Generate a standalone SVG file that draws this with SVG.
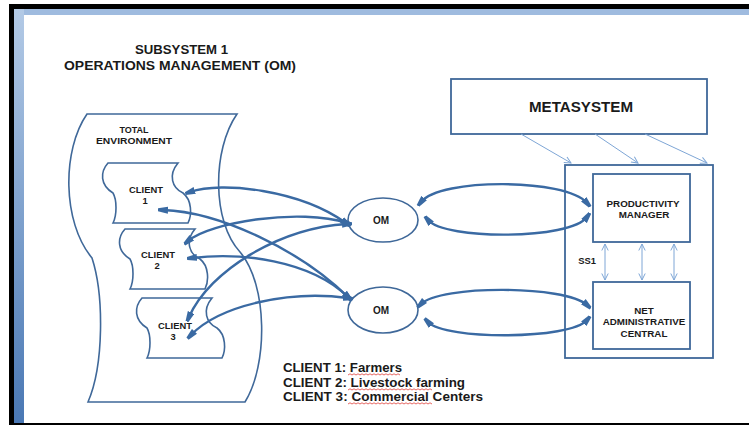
<svg xmlns="http://www.w3.org/2000/svg" width="749" height="425" viewBox="0 0 749 425">
<defs>
<linearGradient id="lstrip" x1="0" y1="0" x2="0" y2="1">
<stop offset="0" stop-color="#b3cae6"/>
<stop offset="1" stop-color="#4a78b4"/>
</linearGradient>
<path id="clientShape" d="M108,163 L178,163 C168,175 172,188 183,193 C192,200 192,215 188,223 L113,223 C117,215 117,200 113,193 C100,185 100,172 108,163 Z"/>
<marker id="wedge" viewBox="0 0 10 8" refX="5" refY="4" markerWidth="10" markerHeight="8" markerUnits="userSpaceOnUse" orient="auto-start-reverse">
<path d="M0,0.5 L10,2.5 L10,5.5 L0,7.5 Z" fill="#3a6aa3"/>
</marker>
<marker id="open" viewBox="0 0 8 8" refX="7" refY="4" markerWidth="8" markerHeight="8" markerUnits="userSpaceOnUse" orient="auto-start-reverse">
<path d="M0.5,0.8 L7,4 L0.5,7.2" fill="none" stroke="#7ea6d6" stroke-width="1"/>
</marker>
</defs>
<style>
.shape{fill:none;stroke:#3f6899;stroke-width:1.6}
.box{fill:#ffffff;stroke:#3f6899;stroke-width:1.8}
.thick{fill:none;stroke:#3a6aa3;stroke-width:2.4}
.thin{fill:none;stroke:#7ea6d6;stroke-width:1}
.lbl{font-family:"Liberation Sans",Arial,sans-serif;font-weight:bold;fill:#1a1a1a;text-anchor:middle}
.txt{font-family:"Liberation Sans",Arial,sans-serif;font-weight:bold;fill:#1a1a1a}
.wavy{fill:none;stroke:#e0403a;stroke-width:0.8}
</style>
<rect x="0" y="0" width="749" height="425" fill="#ffffff"/>
<g id="frame">
<rect x="9" y="4" width="740" height="5" fill="#000000"/>
<rect x="9" y="4" width="5" height="421" fill="#000000"/>
<rect x="9" y="423" width="740" height="2" fill="#000000"/>
<rect x="14" y="9" width="735" height="6" fill="#9fbbdf"/>
<rect x="14" y="9" width="10" height="414" fill="url(#lstrip)"/>
</g>
<g id="title">
<text class="txt" x="135" y="54" font-size="12" textLength="93" lengthAdjust="spacingAndGlyphs">SUBSYSTEM 1</text>
<text class="txt" x="64" y="70" font-size="12" textLength="232" lengthAdjust="spacingAndGlyphs">OPERATIONS MANAGEMENT (OM)</text>
</g>
<g id="total-environment">
<path class="shape" d="M87,114 L237,114 C212,150 212,222 240,252 C268,285 268,365 245,402 L88,402 C104,365 104,295 92,258 C62,222 62,150 87,114 Z"/>
<text class="lbl" x="134" y="133" font-size="9">TOTAL</text>
<text class="lbl" x="134" y="144" font-size="9" textLength="76" lengthAdjust="spacingAndGlyphs">ENVIRONMENT</text>
</g>
<g id="client1">
<use href="#clientShape" class="shape"/>
<text class="lbl" x="146" y="193" font-size="9.4">CLIENT</text>
<text class="lbl" x="145" y="204" font-size="9.4">1</text>
</g>
<g id="client2">
<use href="#clientShape" class="shape" transform="translate(17,66)"/>
<text class="lbl" x="158" y="258" font-size="9.4">CLIENT</text>
<text class="lbl" x="157" y="269" font-size="9.4">2</text>
</g>
<g id="client3">
<use href="#clientShape" class="shape" transform="translate(34,135)"/>
<text class="lbl" x="175" y="329" font-size="9.4">CLIENT</text>
<text class="lbl" x="173" y="340" font-size="9.4">3</text>
</g>
<g id="om1">
<ellipse class="shape" cx="383" cy="220" rx="35" ry="22"/>
<text class="lbl" x="381" y="224" font-size="10">OM</text>
</g>
<g id="om2">
<ellipse class="shape" cx="383" cy="310" rx="35" ry="23"/>
<text class="lbl" x="381" y="314" font-size="10">OM</text>
</g>
<g id="metasystem">
<rect class="box" x="451" y="79" width="256" height="55"/>
<text class="lbl" x="581" y="112" font-size="14" textLength="104" lengthAdjust="spacingAndGlyphs">METASYSTEM</text>
</g>
<g id="ss1">
<rect class="box" x="565" y="165" width="148" height="193"/>
<text class="lbl" x="587" y="264" font-size="9.4">SS1</text>
</g>
<g id="productivity-manager">
<rect class="box" x="593" y="174" width="97" height="68"/>
<text class="lbl" x="643" y="207" font-size="9.8">PRODUCTIVITY</text>
<text class="lbl" x="644" y="218" font-size="9.8">MANAGER</text>
</g>
<g id="net-administrative-central">
<rect class="box" x="593" y="282" width="97" height="67"/>
<text class="lbl" x="644" y="314" font-size="9.8">NET</text>
<text class="lbl" x="644" y="325" font-size="9.8">ADMINISTRATIVE</text>
<text class="lbl" x="644" y="337" font-size="9.8">CENTRAL</text>
</g>
<g id="connectors">
<path class="thick" d="M190,192 C222,181 300,190 346,223" marker-start="url(#wedge)" marker-end="url(#wedge)"/>
<path class="thick" d="M163,210 C220,212 300,250 348,297" marker-start="url(#wedge)" marker-end="url(#wedge)"/>
<path class="thick" d="M188,241 C210,222 300,208 347,223" marker-start="url(#wedge)" marker-end="url(#wedge)"/>
<path class="thick" d="M192,258 C240,252 310,260 348,297" marker-start="url(#wedge)" marker-end="url(#wedge)"/>
<path class="thick" d="M189,317 C210,270 280,228 347,224" marker-start="url(#wedge)" marker-end="url(#wedge)"/>
<path class="thick" d="M191,335 C220,305 290,290 348,298" marker-start="url(#wedge)" marker-end="url(#wedge)"/>
<path class="thick" d="M421,202 C440,178 565,178 587,203" marker-start="url(#wedge)" marker-end="url(#wedge)"/>
<path class="thick" d="M428,220 C445,240 570,240 587,217" marker-start="url(#wedge)" marker-end="url(#wedge)"/>
<path class="thick" d="M421,304 C440,285 565,285 587,305" marker-start="url(#wedge)" marker-end="url(#wedge)"/>
<path class="thick" d="M428,322 C445,340 570,340 587,320" marker-start="url(#wedge)" marker-end="url(#wedge)"/>
<line class="thin" x1="521" y1="134" x2="571" y2="163" marker-end="url(#open)"/>
<line class="thin" x1="595" y1="134" x2="638" y2="163" marker-end="url(#open)"/>
<line class="thin" x1="645" y1="134" x2="707" y2="163" marker-end="url(#open)"/>
<line class="thin" x1="605" y1="244" x2="605" y2="280" marker-start="url(#open)" marker-end="url(#open)"/>
<line class="thin" x1="642" y1="244" x2="642" y2="280" marker-start="url(#open)" marker-end="url(#open)"/>
<line class="thin" x1="674" y1="244" x2="674" y2="280" marker-start="url(#open)" marker-end="url(#open)"/>
</g>
<g id="legend">
<text class="txt" x="283" y="372" font-size="12" textLength="119" lengthAdjust="spacingAndGlyphs">CLIENT 1: Farmers</text>
<text class="txt" x="283" y="387" font-size="12" textLength="182" lengthAdjust="spacingAndGlyphs">CLIENT 2: Livestock farming</text>
<text class="txt" x="283" y="401" font-size="12" textLength="200" lengthAdjust="spacingAndGlyphs">CLIENT 3: Commercial Centers</text>
<path class="wavy" d="M348,375 l2,-1.2 l2,1.2 l2,-1.2 l2,1.2 l2,-1.2 l2,1.2 l2,-1.2 l2,1.2 l2,-1.2 l2,1.2 l2,-1.2 l2,1.2 l2,-1.2 l2,1.2 l2,-1.2 l2,1.2 l2,-1.2 l2,1.2 l2,-1.2 l2,1.2 l2,-1.2 l2,1.2 l2,-1.2 l2,1.2 l2,-1.2 l2,1.2"/>
<path class="wavy" d="M348,390 l2,-1.2 l2,1.2 l2,-1.2 l2,1.2 l2,-1.2 l2,1.2 l2,-1.2 l2,1.2 l2,-1.2 l2,1.2 l2,-1.2 l2,1.2 l2,-1.2 l2,1.2 l2,-1.2 l2,1.2 l2,-1.2 l2,1.2 l2,-1.2 l2,1.2 l2,-1.2 l2,1.2 l2,-1.2 l2,1.2 l2,-1.2 l2,1.2 l2,-1.2 l2,1.2 l2,-1.2 l2,1.2 l2,-1.2 l2,1.2 l2,-1.2 l2,1.2 l2,-1.2 l2,1.2 l2,-1.2 l2,1.2 l2,-1.2 l2,1.2 l2,-1.2 l2,1.2"/>
<path class="wavy" d="M348,404 l2,-1.2 l2,1.2 l2,-1.2 l2,1.2 l2,-1.2 l2,1.2 l2,-1.2 l2,1.2 l2,-1.2 l2,1.2 l2,-1.2 l2,1.2 l2,-1.2 l2,1.2 l2,-1.2 l2,1.2 l2,-1.2 l2,1.2 l2,-1.2 l2,1.2 l2,-1.2 l2,1.2 l2,-1.2 l2,1.2 l2,-1.2 l2,1.2 l2,-1.2 l2,1.2 l2,-1.2 l2,1.2 l2,-1.2 l2,1.2 l2,-1.2 l2,1.2 l2,-1.2 l2,1.2 l2,-1.2 l2,1.2 l2,-1.2 l2,1.2 l2,-1.2 l2,1.2"/>
</g>
</svg>
